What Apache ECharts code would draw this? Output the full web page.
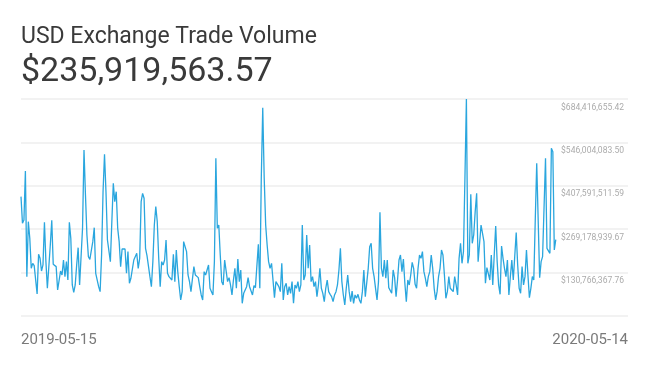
<!DOCTYPE html>
<html>
<head>
<meta charset="utf-8">
<script src="https://cdn.jsdelivr.net/npm/echarts@6/dist/echarts.min.js"></script>
<style>
html,body{margin:0;padding:0;background:#fff;}
#chart{width:650px;height:366px;}
</style>
</head>
<body>
<div id="chart"></div>
<script>
// ---- data ----
const chartTitle = 'USD Exchange Trade Volume';
const headlineValue = '$235,919,563.57';
const startDate = '2019-05-15';
const xTickLabels = ['2019-05-15', '2020-05-14'];
const yTickLabels = ['$130,766,367.76', '$269,178,939.67', '$407,591,511.59', '$546,004,083.50', '$684,416,655.42'];
// daily trade volume, USD millions, 2019-05-15 .. 2020-05-14
const volumeMillions = [
373.0,287.9,298.6,454.8,117.9,293.2,240.1,144.4,160.4,152.9,151.8,62.6,189.1,176.3,135.9,155.1,291.1,165.7,80.7,82.8,
218.8,297.5,157.2,155.1,149.8,75.3,76.1,135.9,123.2,171.0,117.9,165.7,107.2,291.1,240.1,91.3,67.9,91.3,155.1,210.3,
91.3,96.6,272.0,521.8,378.3,250.7,181.6,173.1,176.3,229.5,274.1,128.5,123.2,85.9,70.0,186.9,388.9,508.0,388.9,234.8,
229.5,165.7,293.2,415.5,357.0,388.9,272.0,229.5,149.8,206.1,202.9,206.1,128.5,197.6,96.6,112.6,117.9,171.0,176.3,192.3,
144.4,176.3,357.0,383.6,367.7,208.2,184.8,184.8,117.9,85.9,165.7,282.6,341.1,293.2,176.3,85.9,165.7,155.1,171.0,234.8,
128.5,117.9,112.6,107.2,189.1,101.9,202.9,133.8,85.9,43.5,70.0,229.5,229.5,197.6,123.2,101.9,70.0,64.7,150.0,123.2,
117.9,114.7,85.9,59.4,43.5,133.8,123.2,117.9,155.1,80.7,70.0,59.4,165.7,495.2,272.0,282.6,186.9,101.9,91.3,171.0,
171.0,101.9,114.7,91.3,59.4,107.2,144.4,80.7,174.2,101.9,139.1,32.8,64.7,64.7,85.9,114.7,85.9,89.2,59.4,89.2,
82.8,80.7,221.0,80.7,431.5,656.8,431.5,282.6,218.8,165.7,144.4,160.4,107.2,50.9,101.9,101.9,85.9,70.0,160.4,43.5,
85.9,96.6,59.4,85.9,64.7,101.9,32.8,91.3,80.7,101.9,70.0,91.3,282.6,107.2,123.2,250.7,144.4,218.8,101.9,117.9,
85.9,101.9,54.1,91.3,144.4,80.7,64.7,38.1,80.7,107.2,70.0,61.5,54.1,38.1,59.4,70.0,91.3,139.1,208.2,101.9,
59.4,27.5,80.7,123.2,70.0,38.1,72.2,32.8,59.4,48.8,61.5,43.5,32.8,70.0,139.1,54.1,54.1,144.4,213.5,224.2,
144.4,117.9,80.7,43.5,101.9,323.0,144.4,117.9,171.0,112.6,171.0,82.8,80.7,64.7,139.1,114.7,54.1,107.2,171.0,186.9,
133.8,174.2,96.6,38.1,107.2,91.3,123.2,163.6,144.4,93.4,80.7,144.4,186.9,176.3,197.6,133.8,112.6,85.9,117.9,133.8,
186.9,144.4,80.7,43.5,70.0,117.9,144.4,202.9,186.9,123.2,48.8,70.0,117.9,80.7,85.9,70.0,117.9,91.3,59.4,176.3,
224.2,160.4,197.6,431.5,684.41665542,160.4,186.9,380.4,224.2,250.7,325.2,383.6,165.7,160.4,282.6,284.8,229.5,96.6,146.6,144.4,
107.2,186.9,91.3,186.9,279.4,165.7,91.3,61.5,215.7,176.3,144.4,117.9,171.0,59.4,117.9,171.0,107.2,112.6,258.2,155.1,
80.7,64.7,149.8,91.3,117.9,202.9,123.2,50.9,80.7,117.9,107.2,298.6,479.3,474.0,114.7,165.7,181.6,186.9,495.2,208.2,
202.9,192.3,527.1,516.5,202.9,235.91956357
];
// axis range (USD)
const yMin = -7646204.155;
const yInterval = 138412571.915;
const yMax = 684416655.42;
const xAxisEndDate = '2020-07-02';

// ---- build ----
const DAY = 86400000;
const t0 = Date.parse(startDate + 'T00:00:00Z');
const tEnd = Date.parse(xAxisEndDate + 'T00:00:00Z') + 0.3 * DAY;
const seriesData = volumeMillions.map((v, i) => [t0 + i * DAY, v * 1e6]);

const chart = echarts.init(document.getElementById('chart'), null, {renderer: 'canvas'});
chart.setOption({
  animation: false,
  backgroundColor: '#ffffff',
  textStyle: {fontFamily: 'Roboto'},
  title: [
    {text: chartTitle, left: 16, top: 21,
     textStyle: {fontFamily: 'Roboto', fontSize: 23, fontWeight: 'normal', color: '#3a3a3a'}},
    {text: headlineValue, left: 16, top: 50,
     textStyle: {fontFamily: 'Roboto', fontSize: 34, fontWeight: 'normal', color: '#3a3a3a'}}
  ],
  grid: {left: 21, right: 22, top: 99, bottom: 50, containLabel: false},
  xAxis: {
    type: 'value',
    min: t0,
    max: tEnd,
    interval: tEnd - t0,
    axisLine: {show: false},
    axisTick: {show: false},
    splitLine: {show: false},
    axisLabel: {
      showMinLabel: true, showMaxLabel: true,
      alignMinLabel: 'left', alignMaxLabel: 'right',
      margin: 17,
      fontFamily: 'Roboto', fontSize: 15, color: '#7a7a7a',
      formatter: function (v) { return v <= t0 + DAY ? xTickLabels[0] : xTickLabels[1]; }
    }
  },
  yAxis: {
    type: 'value',
    position: 'right',
    min: yMin, max: yMax, interval: yInterval,
    axisLine: {show: false},
    axisTick: {show: false},
    splitLine: {show: true, lineStyle: {color: '#eeeeee', width: 1.5}},
    axisLabel: {
      inside: true, margin: 4,
      verticalAlign: 'top', padding: [4, 0, 0, 0],
      fontFamily: 'Roboto', fontSize: 8.5, color: '#ababab',
      formatter: function (v) {
        const k = Math.round((v - yMin) / yInterval);
        return k >= 1 ? yTickLabels[k - 1] : '';
      }
    }
  },
  series: [{
    type: 'line',
    data: seriesData,
    showSymbol: false,
    lineStyle: {width: 1.3, color: '#2aa6de'},
    itemStyle: {color: '#2aa6de'}
  }]
});
</script>
</body>
</html>
